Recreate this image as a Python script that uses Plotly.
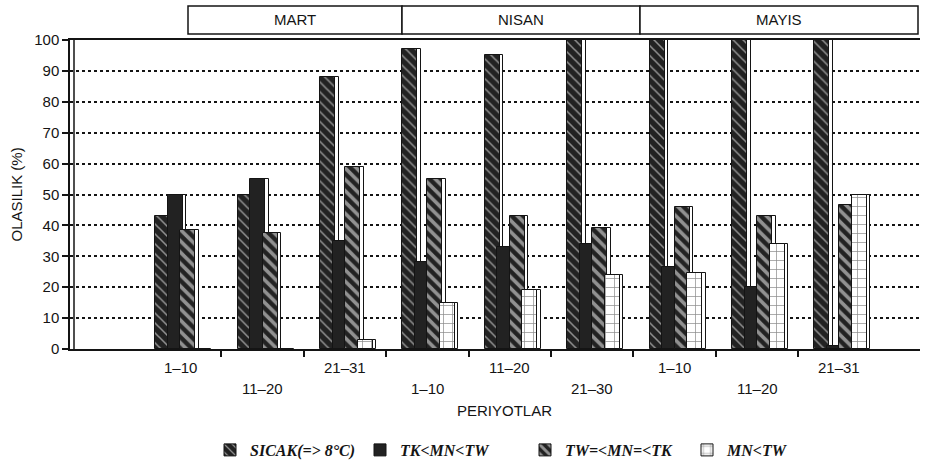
import plotly.graph_objects as go

# --- data -------------------------------------------------------------
periods = ["1–10", "11–20", "21–31", "1–10", "11–20", "21–30", "1–10", "11–20", "21–31"]
months = ["MART", "NISAN", "MAYIS"]
series_names = ["SICAK(=> 8°C)", "TK<MN<TW", "TW=<MN=<TK", "MN<TW"]
sicak = [43, 50, 88, 97, 95, 100, 100, 100, 100]
tk_mn_tw = [50, 55, 35, 28, 33, 34, 26.5, 20, 1]
tw_mn_tk = [38.5, 37.5, 59, 55, 43, 39, 46, 43, 46.5]
mn_tw = [0, 0, 3, 15, 19, 24, 24.5, 34, 50]
y_ticks = [0, 10, 20, 30, 40, 50, 60, 70, 80, 90, 100]

# --- styling ----------------------------------------------------------
W, H = 926, 468
L, R, T, B = 70, 6, 40, 119
plot_w = W - L - R
plot_h = H - T - B
PX_PER_CAT = 82.4
first_center_px = 180.2
x_lo = (L - first_center_px) / PX_PER_CAT
x_hi = (W - R - first_center_px) / PX_PER_CAT

DARK = "#222222"
INK = "#141414"
FONT = "Liberation Sans, Arial, sans-serif"

bar_w = 15 / PX_PER_CAT
step = 12.5 / PX_PER_CAT
start = -25 / PX_PER_CAT
side = 3.5 / PX_PER_CAT

patterns = [
    dict(shape="\\", bgcolor=DARK, fgcolor="white", size=7, solidity=0.22),
    dict(shape="", bgcolor=DARK, fgcolor=DARK),
    dict(shape="\\", bgcolor=DARK, fgcolor="white", size=8, solidity=0.45),
    dict(shape="+", bgcolor="white", fgcolor=INK, size=9, solidity=0.15),
]
fills = [DARK, DARK, DARK, "white"]
values = [sicak, tk_mn_tw, tw_mn_tk, mn_tw]
legend_ids = ["legend", "legend2", "legend3", "legend4"]
legend_text_px = [210, 360, 525, 687]
xs = list(range(len(periods)))


def px_to_paper_x(px):
    return (px - L) / plot_w


def px_to_paper_y(py):
    return (H - B - py) / plot_h


fig = go.Figure()
for i, (name, vals) in enumerate(zip(series_names, values)):
    off = start + i * step
    # white side face giving the bars their raised look
    fig.add_trace(go.Bar(
        x=xs, y=vals, offset=off + side, width=bar_w,
        marker=dict(color="white", line=dict(color=INK, width=1)),
        showlegend=False, hoverinfo="skip",
    ))
    fig.add_trace(go.Bar(
        x=xs, y=vals, offset=off, width=bar_w, name=name,
        legend=legend_ids[i],
        marker=dict(color=fills[i], pattern=patterns[i],
                    line=dict(color=INK, width=1)),
    ))

# category labels, staggered on two rows
for i, p in enumerate(periods):
    fig.add_annotation(
        x=i, y=0, xref="x", yref="paper", yanchor="top", xanchor="center",
        yshift=-8 if i % 2 == 0 else -29, showarrow=False,
        text=p, font=dict(family=FONT, size=15, color=INK),
    )

# month header boxes
month_edges_px = [188, 402, 640, 918]
y_top, y_bot = px_to_paper_y(6), px_to_paper_y(34)
for m, (a, b) in enumerate(zip(month_edges_px[:-1], month_edges_px[1:])):
    fig.add_shape(type="rect", xref="paper", yref="paper",
                  x0=px_to_paper_x(a), x1=px_to_paper_x(b), y0=y_bot, y1=y_top,
                  line=dict(color=INK, width=1.5), fillcolor="white")
    fig.add_annotation(x=(px_to_paper_x(a) + px_to_paper_x(b)) / 2,
                       y=(y_top + y_bot) / 2, xref="paper", yref="paper",
                       xanchor="center", yanchor="middle",
                       showarrow=False, text=months[m],
                       font=dict(family=FONT, size=15, color=INK))

# second line of the double y axis
fig.add_shape(type="line", xref="paper", yref="paper",
              x0=4 / plot_w, x1=4 / plot_w, y0=0, y1=1,
              line=dict(color=INK, width=1.5))

fig.add_annotation(x=px_to_paper_x(16), y=0.5, xref="paper", yref="paper",
                   xanchor="center", yanchor="middle",
                   textangle=-90, showarrow=False, text="OLASILIK (%)",
                   font=dict(family=FONT, size=15, color=INK))
fig.add_annotation(x=px_to_paper_x(505), y=px_to_paper_y(410), xref="paper",
                   yref="paper", xanchor="center", yanchor="middle",
                   showarrow=False, text="PERIYOTLAR",
                   font=dict(family=FONT, size=15, color=INK))

legend_font = dict(family="Liberation Serif, serif", size=16, color=INK,
                   weight="bold", style="italic")
legend_layouts = {}
for lid, xpx in zip(legend_ids, legend_text_px):
    legend_layouts[lid] = dict(
        orientation="h", x=px_to_paper_x(xpx), y=px_to_paper_y(450),
        xanchor="left", yanchor="middle", font=legend_font,
        itemwidth=30, bgcolor="rgba(0,0,0,0)",
    )

fig.update_layout(
    width=W, height=H,
    margin=dict(l=L, r=R, t=T, b=B, autoexpand=False),
    paper_bgcolor="white", plot_bgcolor="white",
    barmode="overlay", bargap=0,
    font=dict(family=FONT, color=INK),
    xaxis=dict(range=[x_lo, x_hi], showgrid=False, zeroline=False,
               showline=True, linecolor=INK, linewidth=2, mirror=True,
               tickvals=[k + 0.5 for k in range(len(periods) - 1)],
               ticktext=[""] * (len(periods) - 1),
               ticks="outside", ticklen=6, tickwidth=1.5, tickcolor=INK),
    yaxis=dict(range=[0, 100], tickvals=y_ticks, showgrid=True,
               gridcolor=INK, griddash="dot", gridwidth=1.5, zeroline=False,
               showline=True, linecolor=INK, linewidth=1.5,
               ticks="outside", ticklen=6, tickwidth=1.5, tickcolor=INK,
               tickfont=dict(family=FONT, size=15, color=INK)),
    **legend_layouts,
)

fig.write_html("out.html")
